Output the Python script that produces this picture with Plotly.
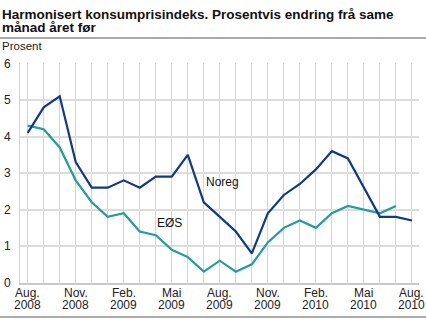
import plotly.graph_objects as go

# Monthly observations, August 2008 - August 2010
months = ["Aug. 2008", "Sep. 2008", "Okt. 2008", "Nov. 2008", "Des. 2008",
          "Jan. 2009", "Feb. 2009", "Mar. 2009", "Apr. 2009", "Mai 2009",
          "Jun. 2009", "Jul. 2009", "Aug. 2009", "Sep. 2009", "Okt. 2009",
          "Nov. 2009", "Des. 2009", "Jan. 2010", "Feb. 2010", "Mar. 2010",
          "Apr. 2010", "Mai 2010", "Jun. 2010", "Jul. 2010", "Aug. 2010"]
noreg = [4.1, 4.8, 5.1, 3.3, 2.6, 2.6, 2.8, 2.6, 2.9, 2.9, 3.5, 2.2, 1.8,
         1.4, 0.8, 1.9, 2.4, 2.7, 3.1, 3.6, 3.4, 2.6, 1.8, 1.8, 1.7]
eos = [4.3, 4.2, 3.7, 2.8, 2.2, 1.8, 1.9, 1.4, 1.3, 0.9, 0.7, 0.3, 0.6,
       0.3, 0.5, 1.1, 1.5, 1.7, 1.5, 1.9, 2.1, 2.0, 1.9, 2.1]
# labelled months: index -> (month label, year label)
tick_labels = {0: ("Aug.", "2008"), 3: ("Nov.", "2008"), 6: ("Feb.", "2009"),
               9: ("Mai", "2009"), 12: ("Aug.", "2009"), 15: ("Nov.", "2009"),
               18: ("Feb.", "2010"), 21: ("Mai", "2010"), 24: ("Aug.", "2010")}
title_lines = ["Harmonisert konsumprisindeks. Prosentvis endring frå same",
               "månad året før"]

x_all = list(range(len(months)))
font = "Liberation Sans, Arial, sans-serif"
W, H = 426, 326


def py(px_from_top):
    """Convert a pixel row (from the top) to a paper y fraction."""
    return (H - px_from_top) / H


fig = go.Figure()
fig.add_trace(go.Scatter(x=x_all[:len(eos)], y=eos, mode="lines", name="EØS",
                         line=dict(color="#1f9f98", width=2.2),
                         hoverinfo="x+y"))
fig.add_trace(go.Scatter(x=x_all, y=noreg, mode="lines", name="Noreg",
                         line=dict(color="#0f3a8c", width=2.2),
                         hoverinfo="x+y"))

annotations = []
for i, line in enumerate(title_lines):
    annotations.append(dict(
        text=f"<b>{line}</b>", xref="paper", yref="paper", x=0,
        y=py(7.5 + 14 * i), xanchor="left", yanchor="middle",
        showarrow=False, font=dict(family=font, size=13.5, color="#111")))
# two-line month/year labels under the x axis
for idx, (mon, yr) in tick_labels.items():
    for j, txt in enumerate((mon, yr)):
        annotations.append(dict(
            text=txt, x=idx, xref="x", y=py(298.5 + 13 * j), yref="paper",
            xanchor="center", yanchor="middle",
            showarrow=False, font=dict(family=font, size=12, color="#222")))
annotations += [
    dict(text="Prosent", xref="paper", yref="paper", x=0, y=py(41),
         xanchor="left", yanchor="middle",
         showarrow=False, font=dict(family=font, size=11.5, color="#222")),
    dict(text="Noreg", x=11.0, y=2.75, xanchor="left", yanchor="middle",
         showarrow=False, font=dict(family=font, size=12, color="#111")),
    dict(text="EØS", x=7.95, y=1.64, xanchor="left", yanchor="middle",
         showarrow=False, font=dict(family=font, size=12, color="#111")),
]

fig.update_layout(
    width=W, height=H,
    margin=dict(l=0, r=0, t=0, b=0),
    paper_bgcolor="white", plot_bgcolor="white",
    showlegend=False,
    font=dict(family=font, size=11, color="#222"),
    xaxis=dict(
        domain=[20 / W, 419 / W],
        range=[-0.48, 24.44],
        tickmode="array",
        tickvals=x_all,
        showticklabels=False,
        showgrid=True, gridcolor="#d4d4d4", gridwidth=1,
        showline=True, linecolor="#c8c8c8", linewidth=2,
        ticks="", zeroline=False, fixedrange=True,
    ),
    yaxis=dict(
        domain=[py(288), py(59)],
        range=[0, 6], dtick=1,
        showgrid=True, gridcolor="#dcdcdc", gridwidth=1.5,
        showline=True, linecolor="#d4d4d4", linewidth=1,
        ticks="", ticklabelstandoff=6,
        tickfont=dict(size=12, color="#222"),
        zeroline=False, fixedrange=True,
    ),
    annotations=annotations,
)
# grey separator lines under the heading and along the bottom edge
for row in (32.5, 324):
    fig.add_shape(type="line", xref="paper", yref="paper", x0=0, x1=1,
                  y0=py(row), y1=py(row),
                  line=dict(color="#ababab", width=2))

fig.write_html("out.html")
